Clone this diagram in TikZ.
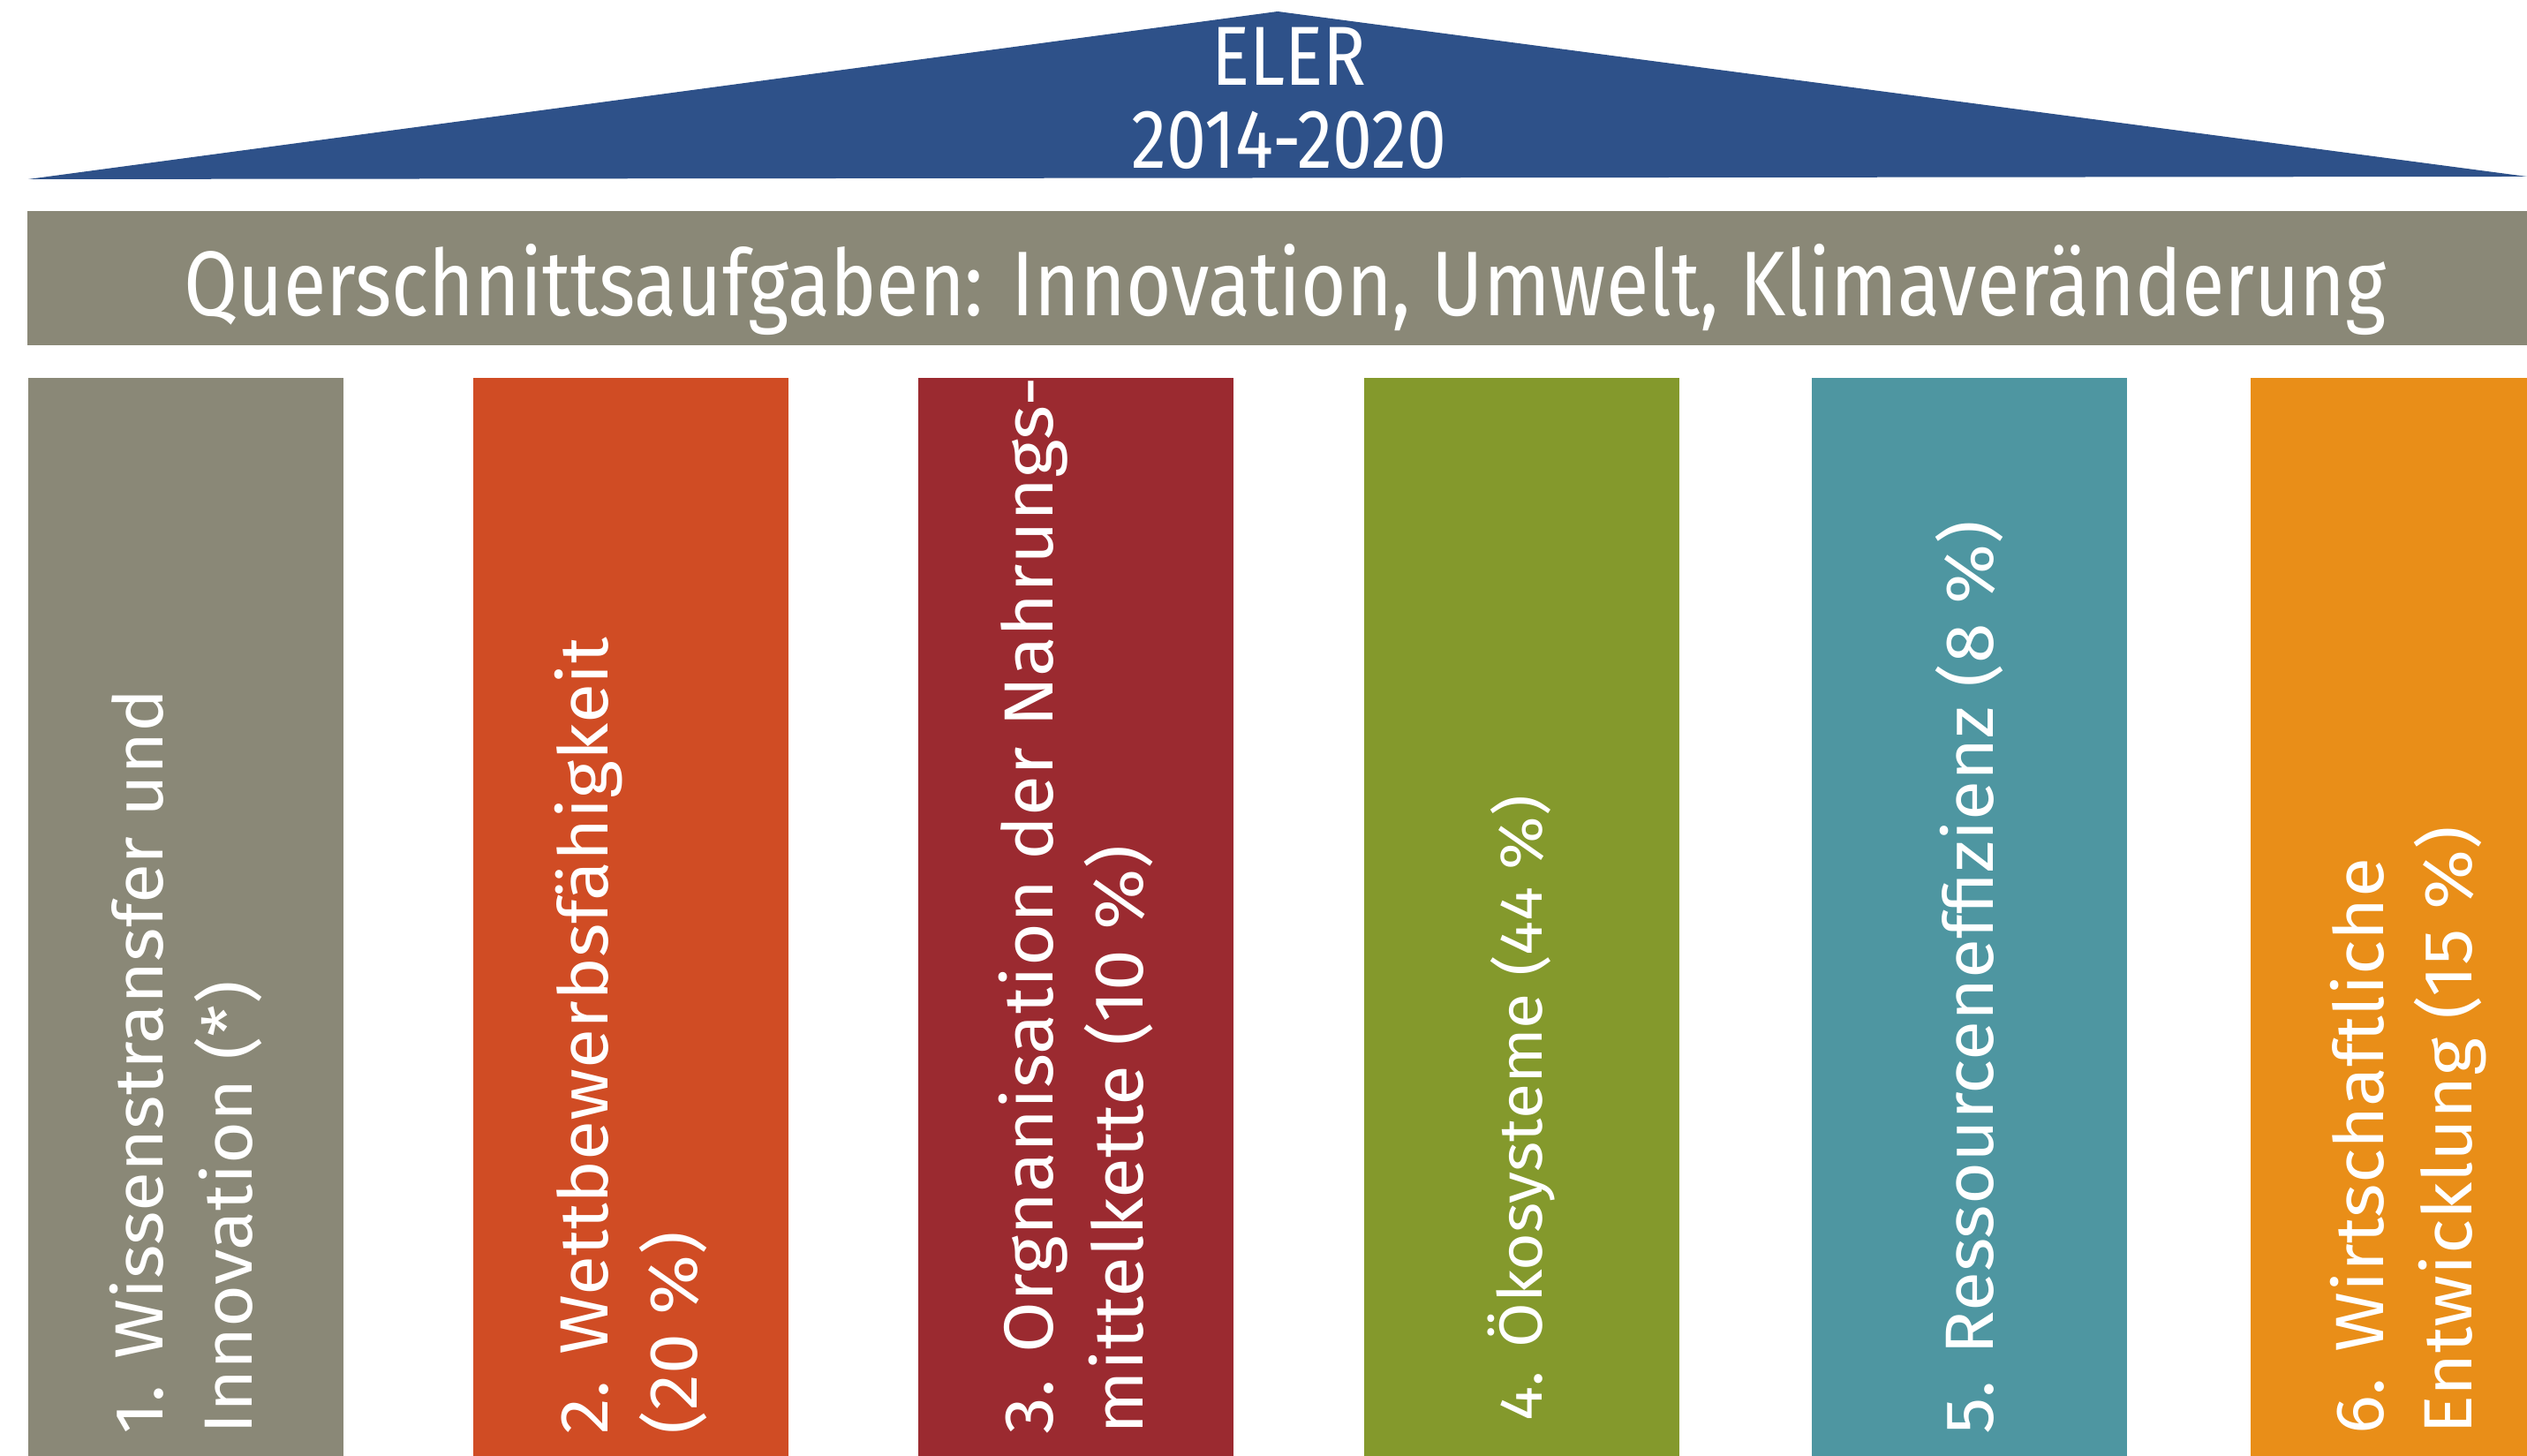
\documentclass[tikz,border=0pt]{standalone}
\usepackage{fontspec}
\setmainfont{Fira Sans}
\newfontfamily\headfont[FakeStretch=0.85]{Fira Sans}
\newfontfamily\pillarfont[FakeStretch=1.065]{Fira Sans}
\usetikzlibrary{positioning,calc}

\definecolor{roofblue}{HTML}{2E5189}
\definecolor{bandgrey}{HTML}{8A8877}
\definecolor{pillarA}{HTML}{8A8877}
\definecolor{pillarB}{HTML}{D04C24}
\definecolor{pillarC}{HTML}{9B2A30}
\definecolor{pillarD}{HTML}{84992C}
\definecolor{pillarE}{HTML}{4E96A1}
\definecolor{pillarF}{HTML}{E98E18}

\begin{document}
\begin{tikzpicture}[x=1cm, y=1cm,
    pillar/.style={anchor=south west, minimum width=3.57cm,
      minimum height=12.21cm, inner sep=0pt, outer sep=0pt},
    pillartext/.style={rotate=90, anchor=west, align=left, text=white,
      inner sep=0pt, font=\pillarfont\fontsize{22}{28.5}\selectfont},
    roofline/.style={text=white, inner sep=0pt, font=\headfont\fontsize{27}{30}\selectfont}]
  \useasboundingbox (0,0) rectangle (28.62,16.49);
  % roof
  \fill[roofblue] (0.32,14.46) -- (14.47,16.36) -- (28.62,14.49) -- cycle;
  \node[roofline] (eler) at (14.60,15.85) {ELER};
  \node[roofline] (period) at (14.60,14.90) {2014-2020};
  % cross-cutting band
  \node[fill=bandgrey, anchor=south west, minimum width=28.32cm,
    minimum height=1.52cm, inner sep=0pt] (band) at (0.30,12.57) {};
  \node[text=white, font=\headfont\fontsize{29.6}{32}\selectfont] (bandtext)
    at ([xshift=0.09cm, yshift=-0.13cm]band.center)
    {Querschnittsaufgaben: Innovation, Umwelt, Klimaveränderung};
  % pillars
  \node[pillar, fill=pillarA] (p1) at (0.32,0) {};
  \node[pillar, fill=pillarB] (p2) at (5.36,0) {};
  \node[pillar, fill=pillarC] (p3) at (10.40,0) {};
  \node[pillar, fill=pillarD] (p4) at (15.45,0) {};
  \node[pillar, fill=pillarE] (p5) at (20.52,0) {};
  \node[pillar, fill=pillarF] (p6) at (25.49,0) {};
  \node[pillartext] (t1) at ([yshift=0.24cm]p1.south) {1. Wissenstransfer und\\Innovation (*)};
  \node[pillartext] (t2) at ([yshift=0.24cm]p2.south) {2. Wettbewerbsfähigkeit\\(20 \%)};
  \node[pillartext, font=\pillarfont\fontsize{22.4}{29}\selectfont] (t3)
    at ([yshift=0.24cm]p3.south) {3. Orgnanisation der Nahrungs-\\mittelkette (10 \%)};
  \node[pillartext, font=\pillarfont\fontsize{19.6}{26}\selectfont] (t4)
    at ([yshift=0.39cm]p4.south) {4. Ökosysteme (44 \%)};
  \node[pillartext] (t5) at ([yshift=0.24cm]p5.south) {5. Ressourceneffizienz (8 \%)};
  \node[pillartext] (t6) at ([yshift=0.24cm]p6.south) {6. Wirtschaftliche\\Entwicklung (15 \%)};
\end{tikzpicture}
\end{document}
